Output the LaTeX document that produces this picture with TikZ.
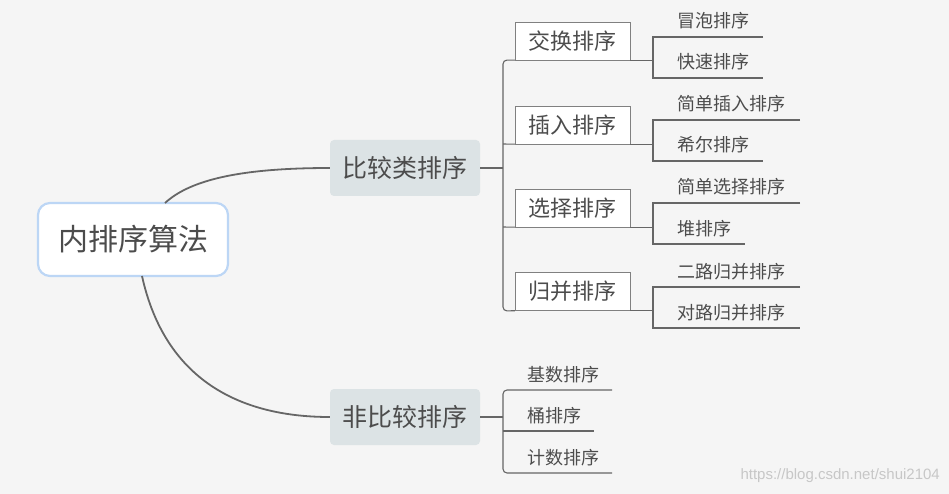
\documentclass[tikz,border=0pt]{standalone}
\usepackage{fontspec}
\setmainfont{Noto Sans CJK SC}
\setsansfont{Liberation Sans}
\begin{document}
\begin{tikzpicture}[x=1pt,y=-1pt,
  txt/.style={text=black!70},
  ln/.style={draw=black!60, line width=1.1pt},
  lf/.style={txt, font=\fontsize{18}{18}\selectfont, anchor=base west, inner sep=0pt},
  grp/.style={txt, draw=black!50, fill=white, minimum width=115pt, minimum height=38pt, font=\fontsize{22}{22}\selectfont, inner sep=0pt},
  mid/.style={txt, fill={rgb,255:red,220;green,227;blue,229}, rounded corners=4pt, minimum width=150pt, minimum height=56pt, font=\fontsize{25}{25}\selectfont, inner sep=0pt}]
\useasboundingbox (0,0) rectangle (949,494);
\fill[black!4] (0,0) rectangle (949,494);
\node[txt, draw={rgb,255:red,188;green,214;blue,245}, line width=2.2pt, fill=white, rounded corners=12pt, minimum width=190pt, minimum height=73pt, font=\fontsize{30}{30}\selectfont, inner sep=0pt] (root) at (133,239.5) {内排序算法};
\node[mid] (cmp) at (405,168) {比较类排序};
\node[mid] (ncmp) at (405,417) {非比较排序};
\draw[ln, line width=1.8pt] (165,203) .. controls (190,180) and (240,168) .. (cmp.west);
\draw[ln, line width=1.8pt] (142,276) .. controls (165,380) and (240,417) .. (ncmp.west);
% groups
\node[grp] (g1) at (572.5,41) {交换排序};
\node[grp] (g2) at (572.5,125) {插入排序};
\node[grp] (g3) at (572.5,208) {选择排序};
\node[grp] (g4) at (572.5,291.5) {归并排序};
\draw[ln] (cmp.east) -- (503,168);
\draw[ln, rounded corners=4pt] (g1.south west) -- (503,60) -- (503,311) -- (g4.south west);
\draw[ln] (503,144) -- (g2.south west);
\draw[ln] (503,227) -- (g3.south west);
% leaves
\foreach \g/\y/\a/\b/\la/\lb in {g1/37/冒泡排序/快速排序/763/763, g2/120/简单插入排序/希尔排序/800/763, g3/203/简单选择排序/堆排序/800/745, g4/287/二路归并排序/对路归并排序/800/800}{
  \draw[ln] (\g.south east) -- (\g.south east -| 653,0);
  \draw[ln] (\la,\y) -- (653,\y) -- (653,{\y+41}) -- (\lb,{\y+41});
  \node[lf] at (677,{\y-9}) {\a};
  \node[lf] at (677,{\y+32}) {\b};
}
% non-compare
\draw[ln] (ncmp.east) -- (503,417);
\draw[ln, rounded corners=4pt] (612,390) -- (503,390) -- (503,473) -- (612,473);
\draw[ln] (503,431) -- (594,431);
\node[lf] (n1) at (527,381) {基数排序};
\node[lf] (n2) at (527,422) {桶排序};
\node[lf] (n3) at (527,464) {计数排序};
\node[anchor=base east, text=black!22, font=\sffamily\fontsize{15}{15}\selectfont, inner sep=0pt] (wm) at (940,479) {https://blog.csdn.net/shui2104};
\end{tikzpicture}
\end{document}
